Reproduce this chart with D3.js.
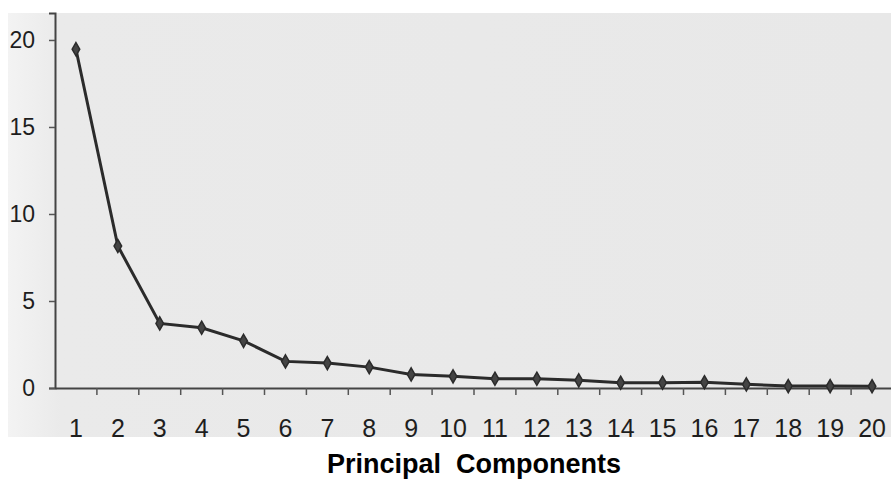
<!DOCTYPE html>
<html>
<head>
<meta charset="utf-8">
<script src="https://cdn.jsdelivr.net/npm/d3@7/dist/d3.min.js"></script>
<style>
  body { margin: 0; background: #fff; }
  svg { display: block; }
  text { font-family: "Liberation Sans", Arial, sans-serif; }
</style>
</head>
<body>
<svg id="svg" width="891" height="489"></svg>
<script>
// scree plot, eigenvalue per component
var components = ['1', '2', '3', '4', '5', '6', '7', '8', '9', '10',
                  '11', '12', '13', '14', '15', '16', '17', '18', '19', '20']
var eigenvalues = [19.47, 8.16, 3.71, 3.46, 2.71, 1.53, 1.43, 1.2, 0.78, 0.67,
                   0.53, 0.53, 0.44, 0.3, 0.3, 0.33, 0.21, 0.11, 0.11, 0.1]
var yTicks = [0, 5, 10, 15, 20]
var xTitle = 'Principal  Components'

var svg = d3.select('#svg')

var plotLeft = 55, plotRight = 893, plotTop = 13, plotBottom = 388

var x = d3.scaleBand().domain(components).range([plotLeft, plotRight])
var y = d3.scaleLinear().domain([0, 21.55]).range([plotBottom, plotTop])

// scanned paper background
var grad = svg.append('defs').append('linearGradient')
    .attr('id', 'paper')
    .attr('x1', 0).attr('x2', 1).attr('y1', 0).attr('y2', 0)
grad.append('stop').attr('offset', '0').attr('stop-color', '#f3f3f3')
grad.append('stop').attr('offset', '0.06').attr('stop-color', '#eaeaea')
grad.append('stop').attr('offset', '1').attr('stop-color', '#e8e8e8')

svg.append('rect')
    .attr('x', 8).attr('y', 13)
    .attr('width', 883).attr('height', 424)
    .attr('fill', 'url(#paper)')

// y axis
var yAxis = svg.append('g')
    .attr('transform', 'translate(' + plotLeft + ',0)')
    .call(d3.axisLeft(y).tickValues(yTicks).tickSize(6).tickPadding(14))
yAxis.select('.domain').attr('stroke', '#444').attr('stroke-width', 2)
yAxis.selectAll('.tick line').attr('stroke', '#555').attr('stroke-width', 1.5)
yAxis.selectAll('.tick text')
    .attr('fill', '#1e1e1e')
    .style('font-size', '23px')

// x axis: labels centred on bands, ticks on band edges
var xAxis = svg.append('g')
    .attr('transform', 'translate(0,' + plotBottom + ')')
    .call(d3.axisBottom(x).tickSize(0).tickPadding(31))
xAxis.select('.domain').attr('stroke', '#444').attr('stroke-width', 2)
xAxis.selectAll('.tick text')
    .attr('fill', '#1e1e1e')
    .style('font-size', '25px')

xAxis.selectAll('.edge')
    .data(components.slice(0, components.length - 1))
    .enter().append('line')
    .attr('class', 'edge')
    .attr('x1', function(d) { return x(d) + x.bandwidth() })
    .attr('x2', function(d) { return x(d) + x.bandwidth() })
    .attr('y1', 0).attr('y2', 7)
    .attr('stroke', '#555').attr('stroke-width', 1.5)

// line + markers
var pts = components.map(function(c, i) { return [c, eigenvalues[i]] })

var line = d3.line()
    .x(function(d) { return x(d[0]) + x.bandwidth() / 2 })
    .y(function(d) { return y(d[1]) })

svg.append('path')
    .datum(pts)
    .attr('d', line)
    .attr('fill', 'none')
    .attr('stroke', '#2b2b2b')
    .attr('stroke-width', 3)

svg.selectAll('.pt')
    .data(pts)
    .enter().append('path')
    .attr('class', 'pt')
    .attr('d', d3.symbol().type(d3.symbolDiamond).size(50))
    .attr('transform', function(d) {
        return 'translate(' + (x(d[0]) + x.bandwidth() / 2) + ',' + y(d[1]) + ')'
    })
    .attr('fill', '#444')
    .attr('stroke', '#2b2b2b')
    .attr('stroke-width', 1.5)

// axis title
svg.append('text')
    .attr('x', 474).attr('y', 473)
    .attr('text-anchor', 'middle')
    .style('white-space', 'pre')
    .style('font-size', '27px')
    .style('font-weight', 'bold')
    .attr('fill', '#000')
    .text(xTitle)
</script>
</body>
</html>
